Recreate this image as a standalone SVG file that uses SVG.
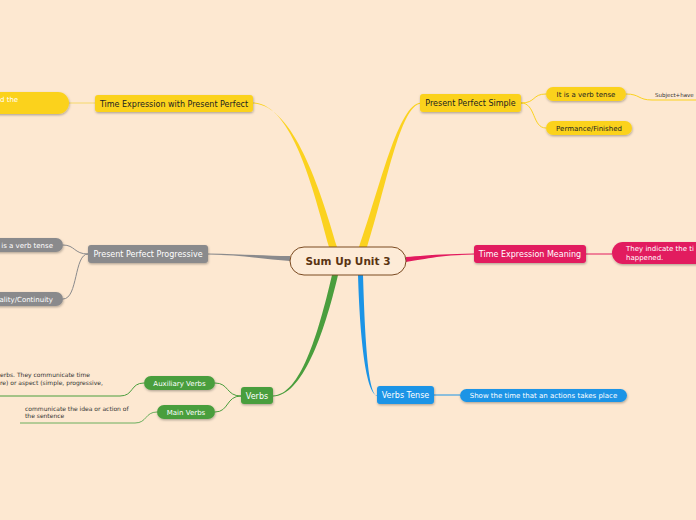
<svg xmlns="http://www.w3.org/2000/svg" width="696" height="520" viewBox="0 0 696 520">
<defs>
<filter id="sh" x="-10%" y="-30%" width="120%" height="170%">
<feDropShadow dx="0.5" dy="1.2" stdDeviation="0.8" flood-color="#000" flood-opacity="0.3"/>
</filter>
<style>
text{font-family:"DejaVu Sans","Verdana",sans-serif}
.t8{font-size:8px}
.t7{font-size:7px}
.t6{font-size:6px;fill:#333}
.dk{fill:#222}
.wh{fill:#fff}
.y{fill:#fbd21f}
.g{fill:#8a8a8c}
.p{fill:#e21a5e}
.gr{fill:#4a9e3d}
.b{fill:#1b94e6}
.ln{fill:none;stroke-width:1}
</style>
</defs>
<rect width="696" height="520" fill="#fde8d1"/>
<g id="connectors">
<path d="M253,102.5 C292,104 313,188 329,247 L337,247 C320,188 293,105 253,103.5 Z" fill="#fbd21f"/>
<path d="M421,102.5 C398,104 380,188 359,247 L367,247 C386,188 400,105 421,103.5 Z" fill="#fbd21f"/>
<path d="M208,253.5 C240,254 265,256 290,256 L290,261 C265,259 240,255 208,254.5 Z" fill="#8a8a8c"/>
<path d="M474,253.5 C440,254 420,256 406,257 L406,262 C420,260 440,255 474,254.5 Z" fill="#e21a5e"/>
<path d="M332,275 C318,335 300,395 273,395.5 L273,396.5 C302,396 324,335 338,275 Z" fill="#4a9e3d"/>
<path d="M358,275 C360,340 366,393 377,395.5 L377,396 C368,393 365,340 363,275 Z" fill="#1b94e6"/>
<path class="ln" d="M69,103 L95,103" stroke="#f5d86a"/>
<path class="ln" d="M521,103 C536,103 532,94 546,94 M521,103 C536,103 532,128 546,128" stroke="#fbd21f"/>
<path class="ln" d="M626,94 C640,94 638,100 652,100 L696,100" stroke="#fbd21f"/>
<path class="ln" d="M586,254 L612,254" stroke="#e21a5e"/>
<path class="ln" d="M88,254 C74,254 75,245 63,245 M88,254 C74,254 78,299 63,299" stroke="#8a8a8c"/>
<path class="ln" d="M241,396 C226,396 229,383 215,383 M241,396 C226,396 229,412 215,412" stroke="#4a9e3d"/>
<path class="ln" d="M144,383 C130,383 134,396 120,396 L0,396" stroke="#4a9e3d"/>
<path class="ln" d="M157,412 C145,412 147,423 135,423 L20,423" stroke="#6aae5c"/>
<path class="ln" d="M434,395 L460,395" stroke="#1b94e6"/>
</g>
<g id="center">
<rect x="290" y="247" width="116" height="28" rx="14" fill="#fdebd7" stroke="#7a4a21" stroke-width="1"/>
<text x="348" y="265" text-anchor="middle" font-size="10.5" font-weight="bold" fill="#5a3312">Sum Up Unit 3</text>
</g>
<g id="tewpp">
<rect x="95" y="95" width="158" height="17" rx="3" class="y" filter="url(#sh)"/>
<text x="174" y="106.5" text-anchor="middle" class="t8 dk">Time Expression with Present Perfect</text>
</g>
<g id="tewpp-note">
<rect x="-20" y="92" width="89" height="22" rx="11" class="y" filter="url(#sh)"/>
<text x="0" y="101.5" class="t7 wh">d the</text>
</g>
<g id="pps">
<rect x="420" y="94" width="101" height="18" rx="3" class="y" filter="url(#sh)"/>
<text x="470.5" y="106" text-anchor="middle" class="t8 dk">Present Perfect Simple</text>
</g>
<g id="pps-tense">
<rect x="546" y="87" width="80" height="14" rx="7" class="y" filter="url(#sh)"/>
<text x="586" y="96.5" text-anchor="middle" class="t7 dk">It is a verb tense</text>
</g>
<g id="pps-subject">
<text x="655" y="97" font-size="5.5" fill="#333">Subject+have</text>
</g>
<g id="pps-perm">
<rect x="546" y="121" width="86" height="14" rx="7" class="y" filter="url(#sh)"/>
<text x="589" y="130.5" text-anchor="middle" class="t7 dk">Permance/Finished</text>
</g>
<g id="tem">
<rect x="474" y="245" width="112" height="18" rx="3" class="p" filter="url(#sh)"/>
<text x="530" y="257" text-anchor="middle" class="t8 wh">Time Expression Meaning</text>
</g>
<g id="tem-note">
<rect x="612" y="242" width="110" height="22" rx="11" class="p" filter="url(#sh)"/>
<text x="626" y="251" class="t7 wh">They indicate the ti</text>
<text x="626" y="260" class="t7 wh">happened.</text>
</g>
<g id="ppp">
<rect x="88" y="245" width="120" height="18" rx="3" class="g" filter="url(#sh)"/>
<text x="148" y="257" text-anchor="middle" class="t8 wh">Present Perfect Progressive</text>
</g>
<g id="ppp-tense">
<rect x="-20" y="238" width="83" height="14" rx="7" class="g" filter="url(#sh)"/>
<text x="53" y="247.5" text-anchor="end" class="t7 wh">is a verb tense</text>
</g>
<g id="ppp-cont">
<rect x="-20" y="292" width="83" height="14" rx="7" class="g" filter="url(#sh)"/>
<text x="53" y="301.5" text-anchor="end" class="t7 wh">ality/Continuity</text>
</g>
<g id="verbs">
<rect x="241" y="387" width="32" height="17" rx="3" class="gr" filter="url(#sh)"/>
<text x="257" y="398.5" text-anchor="middle" class="t8 wh">Verbs</text>
</g>
<g id="aux">
<rect x="144" y="376" width="71" height="14" rx="7" class="gr" filter="url(#sh)"/>
<text x="179.5" y="385.5" text-anchor="middle" class="t7 wh">Auxiliary Verbs</text>
</g>
<g id="aux-note">
<text x="0" y="377" class="t6">erbs. They communicate time</text>
<text x="0" y="385" class="t6">re) or aspect (simple, progressive,</text>
</g>
<g id="main">
<rect x="157" y="405" width="58" height="14" rx="7" class="gr" filter="url(#sh)"/>
<text x="186" y="414.5" text-anchor="middle" class="t7 wh">Main Verbs</text>
</g>
<g id="main-note">
<text x="25" y="411" class="t6">communicate the idea or action of</text>
<text x="25" y="418" class="t6">the sentence</text>
</g>
<g id="vt">
<rect x="377" y="386" width="57" height="18" rx="3" class="b" filter="url(#sh)"/>
<text x="405.5" y="398" text-anchor="middle" class="t8 wh">Verbs Tense</text>
</g>
<g id="vt-note">
<rect x="460" y="389" width="167" height="13" rx="6.5" class="b" filter="url(#sh)"/>
<text x="543.5" y="398" text-anchor="middle" class="t7 wh">Show the time that an actions takes place</text>
</g>
</svg>
